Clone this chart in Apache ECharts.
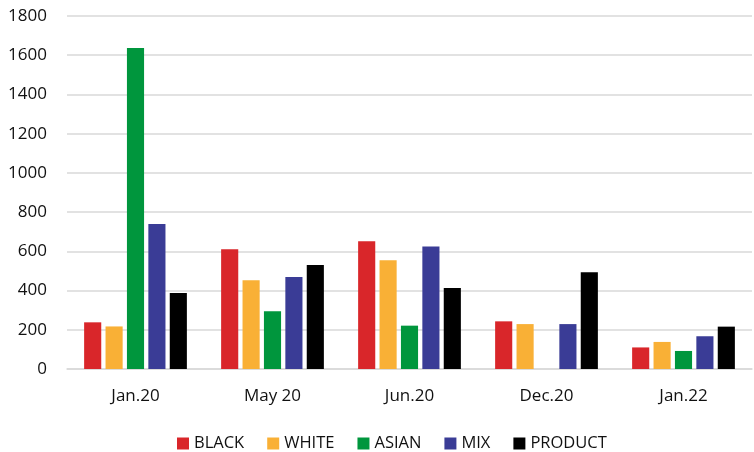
<!DOCTYPE html>
<html><head><meta charset="utf-8">
<script src="https://cdn.jsdelivr.net/npm/echarts@6/dist/echarts.min.js"></script>
<style>html,body{margin:0;padding:0;background:#fff}#c{width:754px;height:452px}</style>
</head><body><div id="c"></div>
<script>
const categories = ['Jan.20', 'May 20', 'Jun.20', 'Dec.20', 'Jan.22'];
const seriesNames = ['BLACK', 'WHITE', 'ASIAN', 'MIX', 'PRODUCT'];
const black = [238, 611, 652, 243, 110];
const white = [217, 452, 554, 229, 138];
const asian = [1637, 294, 221, 0, 92];
const mix = [740, 469, 625, 229, 167];
const product = [387, 530, 413, 493, 216];
const yTicks = [0, 200, 400, 600, 800, 1000, 1200, 1400, 1600, 1800];
const colors = ['#D9262A', '#F9B036', '#00963D', '#3A3C96', '#000000'];
const values = [black, white, asian, mix, product];

const chart = echarts.init(document.getElementById('c'), null, {renderer: 'canvas'});
const font = "'Open Sans', 'Noto Sans', sans-serif";
chart.setOption({
  animation: false,
  color: colors,
  grid: {left: 67, right: 2, top: 16, bottom: 83, containLabel: false},
  legend: {
    top: 430, left: 172, itemWidth: 12, itemHeight: 12, itemGap: 23,
    icon: 'rect',
    textStyle: {fontFamily: font, fontSize: 16.5, color: '#111'},
    data: seriesNames
  },
  xAxis: {
    type: 'category', data: categories,
    axisLine: {lineStyle: {color: '#d9d9d9', width: 1.5}},
    axisTick: {show: false},
    axisLabel: {fontFamily: font, fontSize: 17, color: '#111', margin: 19}
  },
  yAxis: {
    type: 'value', min: yTicks[0], max: yTicks[yTicks.length - 1], interval: 200,
    axisLine: {show: false}, axisTick: {show: false},
    splitLine: {lineStyle: {color: '#d9d9d9', width: 1.5}},
    axisLabel: {fontFamily: font, fontSize: 17, color: '#111', margin: 20,
      formatter: v => String(v)}
  },
  series: seriesNames.map((n, i) => ({
    name: n, type: 'bar', data: values[i],
    barGap: '25%', barCategoryGap: '25%',
    itemStyle: {color: colors[i]}
  }))
});
</script></body></html>
